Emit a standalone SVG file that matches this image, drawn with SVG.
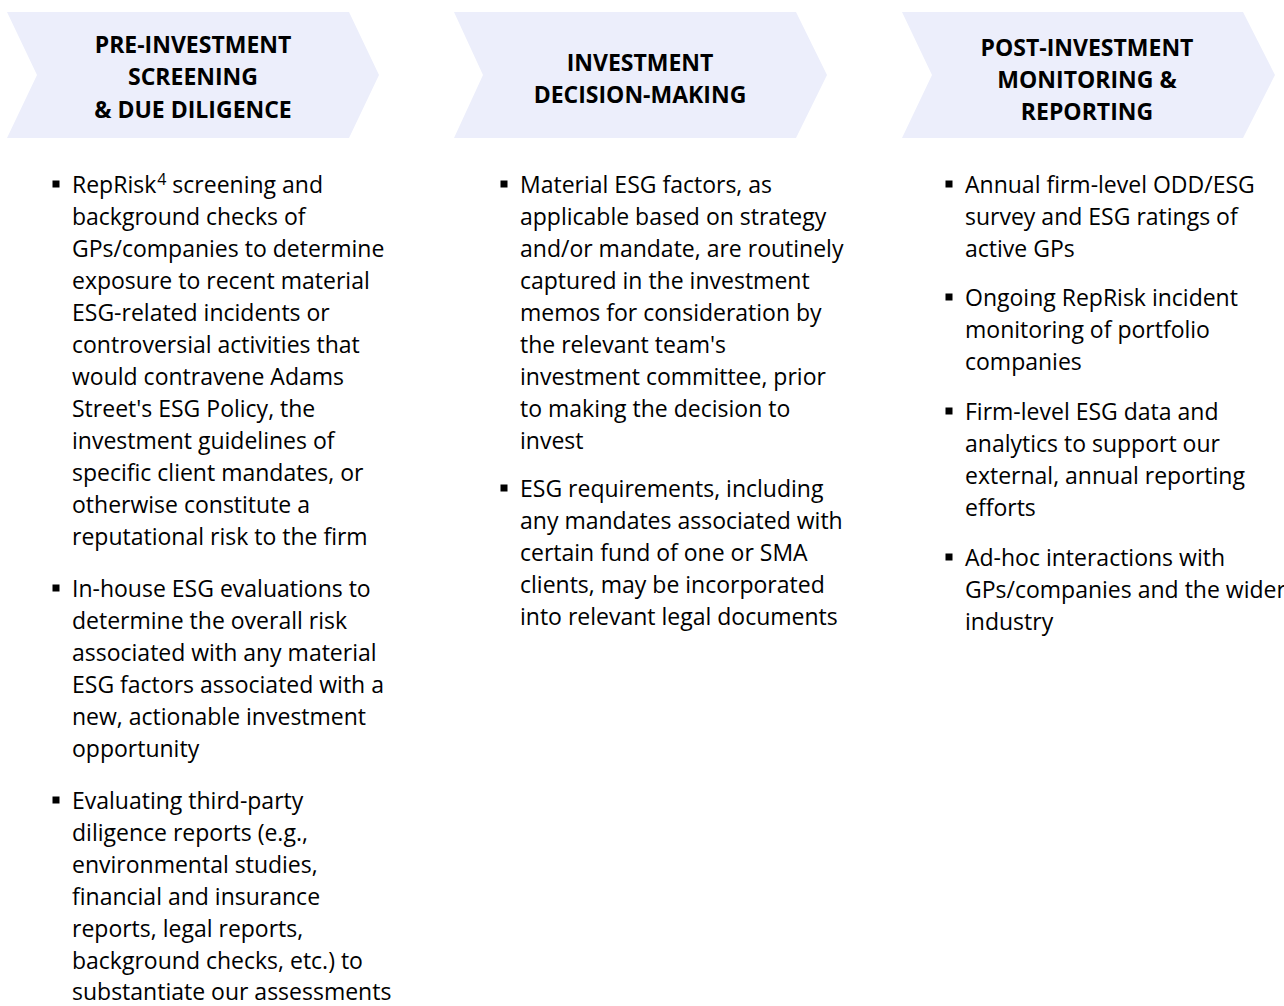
<svg xmlns="http://www.w3.org/2000/svg" width="1284" height="1006" viewBox="0 0 1284 1006">
<style>
.chev{fill:#ECEEFB;stroke:none}
.hd{font-family:"Open Sans","Noto Sans","Liberation Sans",sans-serif;font-weight:bold;font-size:23px;fill:#000;text-anchor:middle}
.bd{font-family:"Open Sans","Noto Sans","Liberation Sans",sans-serif;font-size:23px;fill:#000}
.bl{fill:#000}
</style>
<defs>
<rect id="bul" x="-3.5" y="-3.5" width="7" height="7"/>
</defs>
<rect width="1284" height="1006" fill="#fff"/>
<g id="connectors"/>
<g id="stage-pre-investment">
<polygon class="chev" points="7,12 349,12 379,75 349,138 7,138 37,75"/>
<text class="hd" x="193" y="52.5">PRE-INVESTMENT</text>
<text class="hd" x="193" y="85">SCREENING</text>
<text class="hd" x="193" y="117.5">&amp; DUE DILIGENCE</text>
<g class="bl">
<use href="#bul" x="56" y="184"/>
<use href="#bul" x="56" y="588"/>
<use href="#bul" x="56" y="800"/>
</g>
<text class="bd" x="72" y="193">RepRisk<tspan font-size="16" dx="1" dy="-8">4</tspan><tspan dy="8"> screening and</tspan></text>
<text class="bd" x="72" y="225">background checks of</text>
<text class="bd" x="72" y="257">GPs/companies to determine</text>
<text class="bd" x="72" y="289">exposure to recent material</text>
<text class="bd" x="72" y="321">ESG-related incidents or</text>
<text class="bd" x="72" y="353">controversial activities that</text>
<text class="bd" x="72" y="385">would contravene Adams</text>
<text class="bd" x="72" y="417">Street's ESG Policy, the</text>
<text class="bd" x="72" y="449">investment guidelines of</text>
<text class="bd" x="72" y="481">specific client mandates, or</text>
<text class="bd" x="72" y="513">otherwise constitute a</text>
<text class="bd" x="72" y="545">reputational risk to the firm</text>
<text class="bd" x="72" y="597">In-house ESG evaluations to</text>
<text class="bd" x="72" y="629">determine the overall risk</text>
<text class="bd" x="72" y="661">associated with any material</text>
<text class="bd" x="72" y="693">ESG factors associated with a</text>
<text class="bd" x="72" y="725">new, actionable investment</text>
<text class="bd" x="72" y="757">opportunity</text>
<text class="bd" x="72" y="809">Evaluating third-party</text>
<text class="bd" x="72" y="841">diligence reports (e.g.,</text>
<text class="bd" x="72" y="873">environmental studies,</text>
<text class="bd" x="72" y="905">financial and insurance</text>
<text class="bd" x="72" y="937">reports, legal reports,</text>
<text class="bd" x="72" y="969">background checks, etc.) to</text>
<text class="bd" x="72" y="1000">substantiate our assessments</text>
</g>
<g id="stage-decision">
<polygon class="chev" points="454,12 796,12 827,75 796,138 454,138 483,75"/>
<text class="hd" x="640" y="70.5">INVESTMENT</text>
<text class="hd" x="640" y="103">DECISION-MAKING</text>
<g class="bl">
<use href="#bul" x="504" y="184"/>
<use href="#bul" x="504" y="488"/>
</g>
<text class="bd" x="520" y="193">Material ESG factors, as</text>
<text class="bd" x="520" y="225">applicable based on strategy</text>
<text class="bd" x="520" y="257">and/or mandate, are routinely</text>
<text class="bd" x="520" y="289">captured in the investment</text>
<text class="bd" x="520" y="321">memos for consideration by</text>
<text class="bd" x="520" y="353">the relevant team's</text>
<text class="bd" x="520" y="385">investment committee, prior</text>
<text class="bd" x="520" y="417">to making the decision to</text>
<text class="bd" x="520" y="449">invest</text>
<text class="bd" x="520" y="497">ESG requirements, including</text>
<text class="bd" x="520" y="529">any mandates associated with</text>
<text class="bd" x="520" y="561">certain fund of one or SMA</text>
<text class="bd" x="520" y="593">clients, may be incorporated</text>
<text class="bd" x="520" y="625">into relevant legal documents</text>
</g>
<g id="stage-post-investment">
<polygon class="chev" points="902,12 1243,12 1275,75 1243,138 902,138 932,75"/>
<text class="hd" x="1087" y="56">POST-INVESTMENT</text>
<text class="hd" x="1087" y="88">MONITORING &amp;</text>
<text class="hd" x="1087" y="120">REPORTING</text>
<g class="bl">
<use href="#bul" x="949" y="184"/>
<use href="#bul" x="949" y="297"/>
<use href="#bul" x="949" y="411"/>
<use href="#bul" x="949" y="557"/>
</g>
<text class="bd" x="965" y="193">Annual firm-level ODD/ESG</text>
<text class="bd" x="965" y="225">survey and ESG ratings of</text>
<text class="bd" x="965" y="257">active GPs</text>
<text class="bd" x="965" y="306">Ongoing RepRisk incident</text>
<text class="bd" x="965" y="338">monitoring of portfolio</text>
<text class="bd" x="965" y="370">companies</text>
<text class="bd" x="965" y="420">Firm-level ESG data and</text>
<text class="bd" x="965" y="452">analytics to support our</text>
<text class="bd" x="965" y="484">external, annual reporting</text>
<text class="bd" x="965" y="516">efforts</text>
<text class="bd" x="965" y="566">Ad-hoc interactions with</text>
<text class="bd" x="965" y="598">GPs/companies and the wider</text>
<text class="bd" x="965" y="630">industry</text>
</g>
</svg>
